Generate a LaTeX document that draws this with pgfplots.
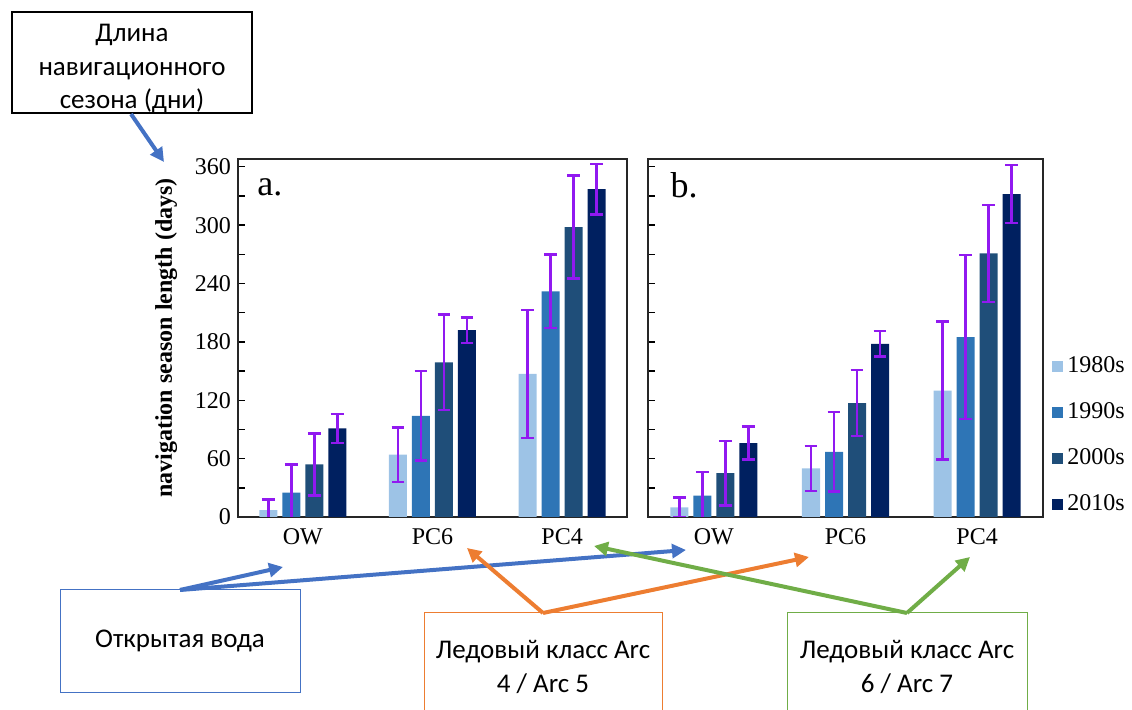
\documentclass[border=0pt]{standalone}
\usepackage{fontspec}
\setmainfont{Liberation Serif}
\newfontfamily\calfont{Carlito}
\newfontfamily\timesfont{Liberation Serif}
\usepackage{pgfplots}
\usepackage{pgfplotstable}
\pgfplotsset{compat=1.18}
\usetikzlibrary{arrows.meta}

\definecolor{cA}{HTML}{9DC3E6}
\definecolor{cB}{HTML}{2E75B6}
\definecolor{cC}{HTML}{1F4E79}
\definecolor{cD}{HTML}{002060}
\definecolor{errc}{RGB}{145,25,240}
\definecolor{oblue}{HTML}{4472C4}
\definecolor{oorange}{HTML}{ED7D31}
\definecolor{ogreen}{HTML}{70AD47}

% panel a
\pgfplotstableread{
x y e
0 7 11
1 64 28
2 147 66
}\aA
\pgfplotstableread{
x y e
0 25 29
1 104 46
2 232 38
}\aB
\pgfplotstableread{
x y e
0 54 32
1 159 49
2 298 53
}\aC
\pgfplotstableread{
x y e
0 91 15
1 192 13
2 337 26
}\aD
% panel b
\pgfplotstableread{
x y e
0 10 10
1 50 23
2 130 71
}\bA
\pgfplotstableread{
x y e
0 22 24
1 67 41
2 185 84
}\bB
\pgfplotstableread{
x y e
0 45 33
1 117 34
2 271 50
}\bC
\pgfplotstableread{
x y e
0 76 17
1 178 13
2 332 30
}\bD

\pgfplotsset{
  panel/.style={
    scale only axis,
    height=179pt,
    ymin=0, ymax=368,
    xmin=-0.5, xmax=2.5,
    ybar=2.5pt, bar width=9pt,
    xtick={0,1,2}, xticklabels={OW,PC6,PC4},
    major x tick style={draw=none},
    xticklabel style={yshift=-2.5pt},
    ytick={0,60,...,360}, minor ytick={30,90,...,330},
    tick align=inside, ytick pos=left,
    major tick length=3.5pt, minor tick length=3.5pt,
    tick style={line width=0.7pt, black},
    axis line style={line width=0.8pt, black!85},
    tick label style={font=\timesfont\fontsize{12}{14}\selectfont},
    /pgf/number format/assume math mode=true,
    error bars/y dir=both, error bars/y explicit,
    error bars/error bar style={errc, line width=1.2pt},
    error bars/error mark options={errc, line width=1.2pt, mark size=3.2pt, rotate=90},
  },
}

\begin{document}
\begin{tikzpicture}
\path[use as bounding box] (0pt,0pt) rectangle (566pt,-355pt);

\begin{axis}[panel, at={(119pt,-258.5pt)}, anchor=south west, width=194.5pt,
  ylabel={\bfseries navigation season length (days)},
  ylabel style={font=\timesfont\fontsize{12}{14}\selectfont, yshift=2pt}]
\addplot[fill=cA, draw=none] table[x=x,y=y,y error=e]{\aA};
\addplot[fill=cB, draw=none] table[x=x,y=y,y error=e]{\aB};
\addplot[fill=cC, draw=none] table[x=x,y=y,y error=e]{\aC};
\addplot[fill=cD, draw=none] table[x=x,y=y,y error=e]{\aD};
\node[anchor=base west, inner sep=0pt, font=\timesfont\fontsize{18}{20}\selectfont] at (rel axis cs:0.049,0.899) {a.};
\end{axis}

\begin{axis}[panel, at={(324pt,-258.5pt)}, anchor=south west, width=197.5pt,
  yticklabels={},
  legend style={at={(1.023,0.228)}, anchor=west, draw=none, fill=none,
    font=\timesfont\fontsize{12}{14}\selectfont, row sep=9.5pt, inner sep=0pt},
  legend cell align=left]
\addplot[fill=cA, draw=none, legend image code/.code={\fill[cA] (0pt,-2.7pt) rectangle (5.4pt,2.7pt);}] table[x=x,y=y,y error=e]{\bA};
\addlegendentry{\timesfont 1980s}
\addplot[fill=cB, draw=none, legend image code/.code={\fill[cB] (0pt,-2.7pt) rectangle (5.4pt,2.7pt);}] table[x=x,y=y,y error=e]{\bB};
\addlegendentry{\timesfont 1990s}
\addplot[fill=cC, draw=none, legend image code/.code={\fill[cC] (0pt,-2.7pt) rectangle (5.4pt,2.7pt);}] table[x=x,y=y,y error=e]{\bC};
\addlegendentry{\timesfont 2000s}
\addplot[fill=cD, draw=none, legend image code/.code={\fill[cD] (0pt,-2.7pt) rectangle (5.4pt,2.7pt);}] table[x=x,y=y,y error=e]{\bD};
\addlegendentry{\timesfont 2010s}
\node[anchor=base west, inner sep=0pt, font=\timesfont\fontsize{18}{20}\selectfont] at (rel axis cs:0.056,0.893) {b.};
\end{axis}

\begin{scope}[x=0.5pt,y=-0.5pt]
  % top-left box
  \draw[line width=0.6pt, black] (12,12) rectangle (252,113);
  \node[align=center, font=\calfont\fontsize{13.5}{16.75}\selectfont] at (132,69) {Длина\\навигационного\\сезона (дни)};
  \draw[oblue, line width=2pt, -{Triangle[length=7pt,width=7pt]}] (131,114) -- (164,162);

  % Open water
  \draw[oblue, line width=0.5pt] (60,590) rectangle (300,693);
  \node[font=\calfont\fontsize{13.5}{16.75}\selectfont] at (180,641) {Открытая вода};
  \draw[oblue, line width=2pt, -{Triangle[length=7pt,width=7pt]}] (180,590) -- (283,567);
  \draw[oblue, line width=2pt, -{Triangle[length=7pt,width=7pt]}] (180,590) -- (686,550);

  % Arc 4 / Arc 5
  \draw[oorange, line width=0.5pt] (424,712) -- (424,613) -- (662,613) -- (662,712);
  \node[align=center, font=\calfont\fontsize{13.5}{16.75}\selectfont] at (543,667) {Ледовый класс Arc\\4 / Arc 5};
  \draw[oorange, line width=2pt, -{Triangle[length=7pt,width=7pt]}] (543,613) -- (467,548);
  \draw[oorange, line width=2pt, -{Triangle[length=7pt,width=7pt]}] (543,613) -- (809,557);

  % Arc 6 / Arc 7
  \draw[ogreen, line width=0.5pt] (787,712) -- (787,613) -- (1027,613) -- (1027,712);
  \node[align=center, font=\calfont\fontsize{13.5}{16.75}\selectfont] at (907,667) {Ледовый класс Arc\\6 / Arc 7};
  \draw[ogreen, line width=2pt, -{Triangle[length=7pt,width=7pt]}] (907,613) -- (594,546);
  \draw[ogreen, line width=2pt, -{Triangle[length=7pt,width=7pt]}] (907,613) -- (970,557);
\end{scope}
\end{tikzpicture}
\end{document}
